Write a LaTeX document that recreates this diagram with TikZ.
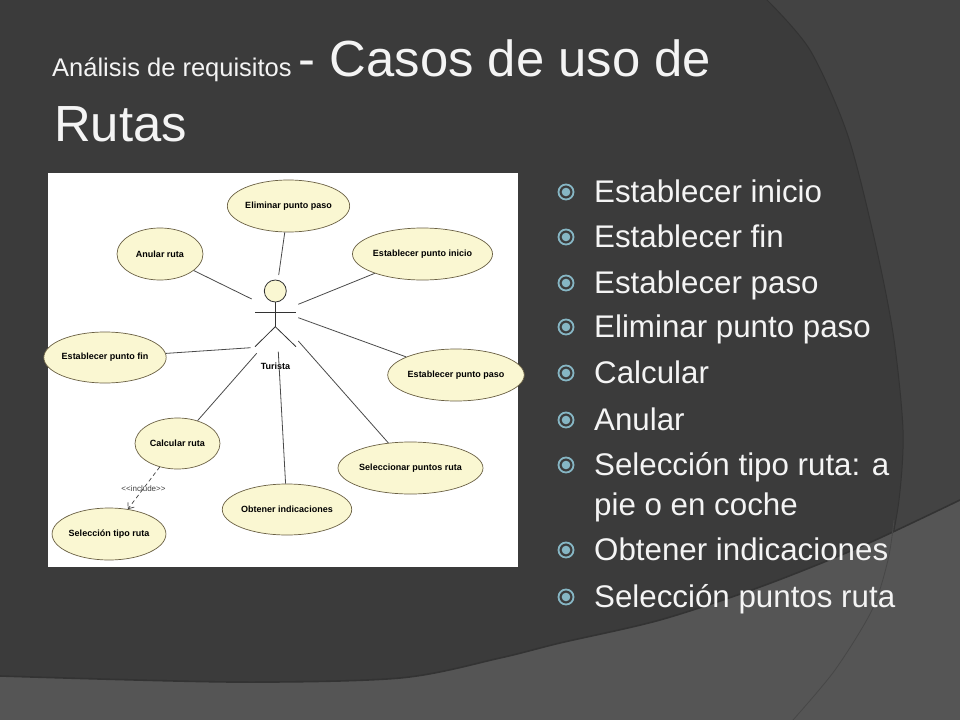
\documentclass[tikz,border=0pt]{standalone}
\usepackage{fontspec}
\setmainfont{Liberation Sans}
\usetikzlibrary{shapes.geometric,arrows.meta}
\definecolor{bgdark}{HTML}{3B3B3B}
\definecolor{bgband}{HTML}{434343}
\definecolor{bglow}{HTML}{555555}
\definecolor{bgshadow}{HTML}{333333}
\definecolor{ucfill}{HTML}{FAF7D2}
\definecolor{ucline}{HTML}{6A6044}
\definecolor{assocc}{HTML}{4A4A4A}
\definecolor{bul}{HTML}{86B6C4}
\definecolor{ttext}{HTML}{F4F4F4}
\tikzset{
  uc/.style={ellipse, draw=ucline, fill=ucfill, line width=0.7bp, inner sep=0pt,
    font=\fontsize{9bp}{10bp}\selectfont\bfseries, text=black},
  assoc/.style={draw=assocc, line width=0.8bp},
  actorline/.style={draw=black!80, line width=0.8bp},
  itemtext/.style={anchor=base west, inner sep=0pt, text=ttext,
    font=\fontsize{31.3bp}{40bp}\selectfont},
  bulletmark/.style={circle, draw=bul, line width=1.8bp, minimum size=15bp, inner sep=0pt,
    path picture={\fill[bul] (path picture bounding box.center) circle (4.3bp);}},
  titletext/.style={anchor=base west, inner sep=0pt, text=ttext}
}
\begin{document}
\begin{tikzpicture}[x=1bp,y=-1bp]
\useasboundingbox (0,0) rectangle (960,720);
% background
\fill[bgdark] (0,0) rectangle (960,720);
\fill[bgband] plot[smooth] coordinates {(767,0) (810,50) (847,133) (873,233) (893,333) (903,430) (899,500) (888,560) (872,610) (835,670) (793,720)} -- (960,720) -- (960,0) -- cycle;
\draw[bgshadow, line width=1bp] plot[smooth] coordinates {(767,0) (810,50) (847,133) (873,233) (893,333) (903,430) (899,500) (888,560)};
\fill[bglow] plot[smooth] coordinates {(0,676) (233,682) (400,678) (500,658) (560,643) (660,620) (760,587) (860,547) (960,500)} -- (960,720) -- (0,720) -- cycle;
\draw[bgshadow, line width=1.6bp] plot[smooth] coordinates {(0,676) (233,682) (400,678) (500,658) (560,643) (660,620) (760,587) (860,547) (960,500)};
\draw[black!72, line width=0.8bp] plot[smooth] coordinates {(894,520) (888,560) (872,610) (835,670) (793,720)};

% title
\node[titletext] (t1) at (52,77) {{\fontsize{25.5bp}{30bp}\selectfont Análisis de requisitos }{\fontsize{50.8bp}{60bp}\selectfont - Casos de uso de}};
\node[titletext, font=\fontsize{50.8bp}{60bp}\selectfont] (t2) at (54,142) {Rutas};

% diagram box
\fill[white] (48,173) rectangle (518,567);

% use cases
\node[uc, minimum width=101bp, minimum height=52bp] (elim) at (288.5,206) {Eliminar punto paso};
\node[uc, minimum width=86bp, minimum height=52bp] (anular) at (160,254) {Anular ruta};
\node[uc, minimum width=113bp, minimum height=52bp] (inicio) at (422.5,254) {Establecer punto inicio};
\node[uc, minimum width=100bp, minimum height=51bp] (fin) at (105,357.5) {Establecer punto fin};
\node[uc, minimum width=110bp, minimum height=52bp] (paso) at (456,375) {Establecer punto paso};
\node[uc, minimum width=85bp, minimum height=51bp] (calc) at (177.5,443.5) {Calcular ruta};
\node[uc, minimum width=117bp, minimum height=52bp] (selp) at (410.5,468) {Seleccionar puntos ruta};
\node[uc, minimum width=104bp, minimum height=51bp] (obt) at (287,509.5) {Obtener indicaciones};
\node[uc, minimum width=96bp, minimum height=52bp] (selt) at (109,534) {Selección tipo ruta};

% actor
\node[circle, draw=black!80, fill=ucfill, line width=0.8bp, minimum size=22bp, inner sep=0pt] (head) at (275.3,291) {};
\coordinate (hip) at (275.3,326.7);
\coordinate (larm) at (255,312.3);
\coordinate (rarm) at (295.5,312.3);
\coordinate (lfoot) at (255,346.7);
\coordinate (rfoot) at (296,346.7);
\draw[actorline] (larm) -- (rarm);
\draw[actorline] (head.south) -- (hip);
\draw[actorline] (lfoot) -- (hip) -- (rfoot);
\node[font=\fontsize{9bp}{10bp}\selectfont\bfseries, text=black, inner sep=0pt] (turista) at (275.5,366) {Turista};

% actor-side ends of associations
\coordinate (a1) at (278.7,275);
\coordinate (a2) at (251.7,299);
\coordinate (a3) at (298.3,304.3);
\coordinate (a4) at (250.7,347.7);
\coordinate (a5) at (298.3,317.7);
\coordinate (a6) at (256.7,353.3);
\coordinate (a7) at (298.3,341);
\coordinate (a8) at (278.3,351.7);
\draw[assoc] (elim) -- (a1);
\draw[assoc] (anular) -- (a2);
\draw[assoc] (inicio) -- (a3);
\draw[assoc] (fin) -- (a4);
\draw[assoc] (paso) -- (a5);
\draw[assoc] (calc) -- (a6);
\draw[assoc] (selp) -- (a7);
\draw[assoc] (obt) -- (a8);

% include
\draw[draw=black!75, line width=0.7bp, dash pattern=on 4bp off 3bp, -{Straight Barb[length=5bp,width=8bp]}] (calc) -- (selt);
\node[font=\fontsize{8bp}{9bp}\selectfont, text=black!75, inner sep=0.5pt] (incl) at (143.5,488.5) {<{}<include>{}>};

% bullet list
\foreach \n/\yb/\txt in {1/202/Establecer inicio, 2/247/Establecer fin, 3/293/Establecer paso, 4/337/Eliminar punto paso, 5/383/Calcular, 6/430/Anular, 7/475/Selección tipo ruta: a, 8/560/Obtener indicaciones, 9/607/Selección puntos ruta}{
  \node[bulletmark] (b\n) at (566,\yb-10) {};
  \node[itemtext] (i\n) at (594,\yb) {\txt};
}
\node[itemtext] (i7b) at (594,515) {pie o en coche};
\end{tikzpicture}
\end{document}
